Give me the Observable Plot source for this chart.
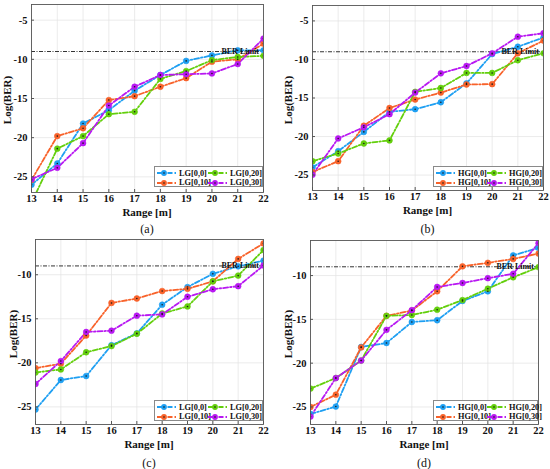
<!DOCTYPE html>
<html><head><meta charset="utf-8">
<script src="https://cdn.jsdelivr.net/npm/d3@7"></script>
<script src="https://cdn.jsdelivr.net/npm/@observablehq/plot@0.6"></script>
<style>
body{margin:0;background:#fff;}
#fig{position:relative;width:550px;height:469px;font-family:"Liberation Serif","Times New Roman",serif;color:#111;overflow:hidden;}
.panel{position:absolute;width:275px;height:235px;}
.panel svg{position:absolute;left:0;top:0;}
.lbl{position:absolute;font-weight:bold;font-size:11px;line-height:11px;white-space:nowrap;transform:translate(-50%,-50%);}
.ylbl{position:absolute;font-weight:bold;font-size:11px;line-height:11px;white-space:nowrap;transform:translate(-50%,-50%) rotate(-90deg);}
.cap{position:absolute;font-size:12px;line-height:12px;white-space:nowrap;transform:translate(-50%,-50%);}
.legend{position:absolute;background:#fff;border:1px solid #8a8a8a;box-sizing:border-box;font-weight:bold;font-size:8.3px;}
.li{position:absolute;display:flex;align-items:center;height:9px;}
.li svg{position:static;margin-right:1px;}
</style></head>
<body><div id="fig"></div>
<script>
const ranges = [13,14,15,16,17,18,19,20,21,22];
const berLimit = -9;
const berLabel = "BER Limit";
const colors = ["#1E9FF2","#F8622A","#63CF0C","#B818F2"];
const lgNames = ["LG[0,0]","LG[0,10]","LG[0,20]","LG[0,30]"];
const hgNames = ["HG[0,0]","HG[0,10]","HG[0,20]","HG[0,30]"];
const yTicksTop = [-25,-20,-15,-10,-5];
const yTicksBottom = [-25,-20,-15,-10];
const captions = ["(a)","(b)","(c)","(d)"];

// (a) LG
const a_00  = [-26.0,-23.3,-18.2,-16.5,-14.0,-12.0,-10.2,-9.5,-8.85,-8.85];
const a_10  = [-25.4,-19.8,-18.8,-15.2,-14.7,-13.5,-12.4,-10.3,-10.0,-8.0];
const a_20  = [-28.3,-21.4,-19.8,-17.0,-16.7,-12.5,-11.5,-10.1,-9.7,-9.55];
const a_30  = [-25.3,-23.85,-20.7,-15.9,-13.5,-12.0,-11.9,-11.8,-10.6,-7.35];
// (b) HG
const b_00  = [-24.0,-21.9,-19.4,-16.8,-16.45,-15.55,-13.1,-9.3,-8.35,-7.15];
const b_10  = [-24.6,-23.2,-18.6,-16.3,-15.2,-14.3,-13.25,-13.2,-9.2,-7.55];
const b_20  = [-23.2,-22.2,-20.9,-20.5,-14.2,-13.7,-11.75,-11.75,-10.1,-9.2];
const b_30  = [-24.95,-20.25,-18.8,-17.1,-14.3,-11.8,-10.85,-9.2,-7.05,-6.6];
// (c) LG
const c_00  = [-25.3,-21.95,-21.5,-18.0,-16.65,-13.4,-11.4,-9.9,-9.05,-8.4];
const c_10  = [-20.6,-20.1,-16.9,-13.2,-12.7,-11.85,-11.6,-10.75,-8.2,-6.45];
const c_20  = [-21.1,-20.75,-18.8,-18.1,-16.7,-14.4,-13.6,-10.75,-10.1,-7.2];
const c_30  = [-22.4,-19.8,-16.5,-16.35,-14.65,-14.5,-12.5,-11.65,-11.3,-8.95];
// (d) HG
const d_00  = [-25.8,-24.95,-18.15,-17.7,-15.3,-15.1,-12.9,-11.8,-7.7,-6.85];
const d_10  = [-25.0,-23.6,-18.2,-14.6,-14.0,-11.8,-8.95,-8.55,-8.1,-7.5];
const d_20  = [-22.9,-21.7,-19.7,-14.6,-14.5,-13.9,-12.8,-11.5,-10.2,-9.05];
const d_30  = [-26.1,-21.7,-19.7,-16.2,-13.95,-11.3,-10.85,-10.3,-9.8,-6.3];

const panels = [
  {left:0,   top:0,   ml:31, mr:12, mt:4, mb:25, dom:[-27,-3], ticks:yTicksTop,    names:lgNames, series:[a_00,a_10,a_20,a_30], ylx:7,  leg:[154,166]},
  {left:275, top:0,   ml:37, mr:7,  mt:5, mb:27, dom:[-27,-3], ticks:yTicksTop,    names:hgNames, series:[b_00,b_10,b_20,b_30], ylx:13, leg:[158,166]},
  {left:0,   top:234, ml:35, mr:12, mt:5, mb:27, dom:[-27,-6], ticks:yTicksBottom, names:lgNames, series:[c_00,c_10,c_20,c_30], ylx:13, leg:[154,166]},
  {left:275, top:234, ml:35, mr:12, mt:6, mb:27, dom:[-27,-6], ticks:yTicksBottom, names:hgNames, series:[d_00,d_10,d_20,d_30], ylx:13, leg:[158,166]}
];
const W = 275, H = 217;
const dash = "5,2,1.5,2";
const fig = document.getElementById("fig");

panels.forEach((p, i) => {
  const rows = [];
  p.series.forEach((vals, k) => vals.forEach((v, j) => rows.push({x: ranges[j], y: v, s: p.names[k]})));
  const chart = Plot.plot({
    width: W, height: H,
    marginLeft: p.ml, marginRight: p.mr, marginTop: p.mt, marginBottom: p.mb,
    style: {fontFamily: "Liberation Serif", fontSize: "10.5px", fontWeight: "bold", background: "transparent", color: "#111"},
    x: {domain: [ranges[0], ranges[ranges.length-1]]},
    y: {domain: p.dom},
    color: {domain: p.names, range: colors},
    marks: [
      Plot.gridX(ranges, {stroke: "#e3e3e3", strokeOpacity: 1, strokeWidth: 0.7}),
      Plot.gridY(p.ticks, {stroke: "#e3e3e3", strokeOpacity: 1, strokeWidth: 0.7}),
      Plot.ruleY([berLimit], {x1: ranges[0], x2: ranges[ranges.length-1], stroke: "#333", strokeWidth: 1, strokeDasharray: "4,1.5,1,1.5"}),
      Plot.line(rows, {x: "x", y: "y", z: "s", stroke: "s", strokeWidth: 1.8, strokeDasharray: dash, clip: true}),
      Plot.dot(rows, {x: "x", y: "y", fill: "s", stroke: "s", r: 2.9, strokeWidth: 0.6, clip: true}),
      Plot.dot(rows, {x: "x", y: "y", fill: "#1a1a1a", r: 0.8, clip: true}),
      Plot.text([berLabel], {y: () => berLimit, frameAnchor: "right", textAnchor: "end", lineAnchor: "bottom", dx: -4.5, dy: 2, fontSize: 8, fontWeight: "bold", fill: "#111"}),
      Plot.frame({stroke: "#555", strokeWidth: 0.9}),
      Plot.axisX({ticks: ranges, tickSize: -3, tickPadding: 5.5, tickFormat: d => String(d), label: null, stroke: "#555"}),
      Plot.axisY({ticks: p.ticks, tickSize: -3, tickPadding: 7, tickFormat: d => String(d), label: null, stroke: "#555"})
    ]
  });
  const div = document.createElement("div");
  div.className = "panel";
  div.style.left = p.left + "px";
  div.style.top = p.top + "px";
  div.appendChild(chart);
  const cx = p.ml + (W - p.ml - p.mr) / 2;
  const cy = p.mt + (H - p.mt - p.mb) / 2;

  const xl = document.createElement("div");
  xl.className = "lbl"; xl.textContent = "Range [m]";
  xl.style.left = cx + "px"; xl.style.top = (H - p.mb + 19.5) + "px";
  div.appendChild(xl);

  const yl = document.createElement("div");
  yl.className = "ylbl"; yl.textContent = "Log(BER)";
  yl.style.left = p.ylx + "px"; yl.style.top = (cy + 2) + "px";
  div.appendChild(yl);

  const cap = document.createElement("div");
  cap.className = "cap"; cap.textContent = captions[i];
  cap.style.left = cx + "px"; cap.style.top = "228.5px";
  div.appendChild(cap);

  // legend
  const lg = document.createElement("div");
  lg.className = "legend";
  const lw = W - p.mr - p.leg[0];
  lg.style.left = p.leg[0] + "px"; lg.style.top = p.leg[1] + "px";
  lg.style.width = lw + "px"; lg.style.height = "21px";
  const pos = [[1,1.5],[1,11],[52,1.5],[52,11]];
  p.names.forEach((n, k) => {
    const it = document.createElement("div");
    it.className = "li";
    it.style.left = pos[k][0] + "px"; it.style.top = pos[k][1] + "px";
    const s = d3.create("svg").attr("width", 22).attr("height", 8);
    s.append("line").attr("x1", 1).attr("x2", 21).attr("y1", 4).attr("y2", 4)
      .attr("stroke", colors[k]).attr("stroke-width", 1.8).attr("stroke-dasharray", dash);
    s.append("circle").attr("cx", 8).attr("cy", 4).attr("r", 2.9).attr("fill", colors[k]);
    s.append("circle").attr("cx", 8).attr("cy", 4).attr("r", 0.8).attr("fill", "#1a1a1a");
    it.appendChild(s.node());
    const t = document.createElement("span"); t.textContent = n;
    it.appendChild(t);
    lg.appendChild(it);
  });
  div.appendChild(lg);
  fig.appendChild(div);
});
</script></body></html>
